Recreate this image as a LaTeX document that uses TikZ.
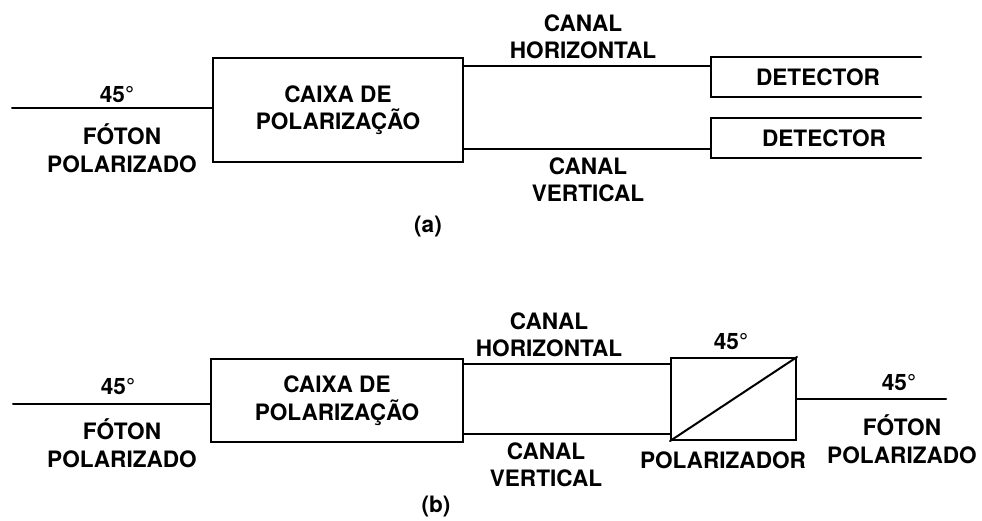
\documentclass[tikz,border=0pt]{standalone}
\usepackage{fontspec}
\setmainfont{TeX Gyre Heros}
\begin{document}
\begin{tikzpicture}[x=1pt,y=-1pt,
  txt/.style={font=\fontsize{22.6}{27.5}\selectfont\bfseries, align=center, inner sep=0pt},
  wire/.style={line width=2pt, line cap=round},
  mainbox/.style={draw, line width=2pt, rectangle, inner sep=0pt, txt},
  detbox/.style={rectangle, inner sep=0pt, minimum width=210pt, minimum height=40pt, txt}]
\useasboundingbox[fill=white] (0,0) rectangle (982,520);

% ---------------- (a) ----------------
\node[mainbox, minimum width=250pt, minimum height=104pt] (boxa) at (338,110) {CAIXA DE\\POLARIZAÇÃO};
\coordinate (ina) at (12,108);
\draw[wire] (ina) -- (ina -| boxa.west);
\node[txt] (deg1) at (117,95) {45°};
\node[txt] (foton1) at (122,148) {FÓTON\\POLARIZADO};

\node[detbox] (det1) at (816,77) {\hspace*{4pt}DETECTOR};
\node[detbox] (det2) at (816,138) {\hspace*{16pt}DETECTOR};
\draw[wire] (det1.north east) -- (det1.north west) -- (det1.south west) -- (det1.south east);
\draw[wire] (det2.north east) -- (det2.north west) -- (det2.south west) -- (det2.south east);

\draw[wire] ([yshift=-9pt]boxa.north east) -- ([yshift=-9pt]boxa.north east -| det1.west);
\draw[wire] ([yshift=14pt]boxa.south east) -- ([yshift=14pt]boxa.south east -| det2.west);

\node[txt] (chh1) at (583,37) {CANAL\\HORIZONTAL};
\node[txt] (chv1) at (588,180) {CANAL\\VERTICAL};
\node[txt] (capa) at (428,227) {(a)};

% ---------------- (b) ----------------
\node[mainbox, minimum width=252pt, minimum height=83pt] (boxb) at (337,400.5) {CAIXA DE\\POLARIZAÇÃO};
\coordinate (inb) at (13,404);
\draw[wire] (inb) -- (inb -| boxb.west);
\node[txt] (deg2) at (118,387) {45°};
\node[txt] (foton2) at (122,443) {FÓTON\\POLARIZADO};

\node[draw, line width=2pt, rectangle, inner sep=0pt, minimum width=125pt, minimum height=82pt] (pol) at (733.5,399) {};
\draw[wire] (pol.south west) -- (pol.north east);

\draw[wire] ([yshift=-6pt]boxb.north east) -- ([yshift=-6pt]boxb.north east -| pol.west);
\draw[wire] ([yshift=9pt]boxb.south east) -- ([yshift=9pt]boxb.south east -| pol.west);

\coordinate (outb) at (946,399);
\draw[wire] (pol.east) -- (outb);

\node[txt] (deg3) at (731,342) {45°};
\node[txt] (polname) at (723,460) {POLARIZADOR};
\node[txt] (deg4) at (899,383) {45°};
\node[txt] (foton3) at (902,439) {FÓTON\\POLARIZADO};

\node[txt] (chh2) at (549,335) {CANAL\\HORIZONTAL};
\node[txt] (chv2) at (546,465) {CANAL\\VERTICAL};
\node[txt] (capb) at (436,507) {(b)};
\end{tikzpicture}
\end{document}
